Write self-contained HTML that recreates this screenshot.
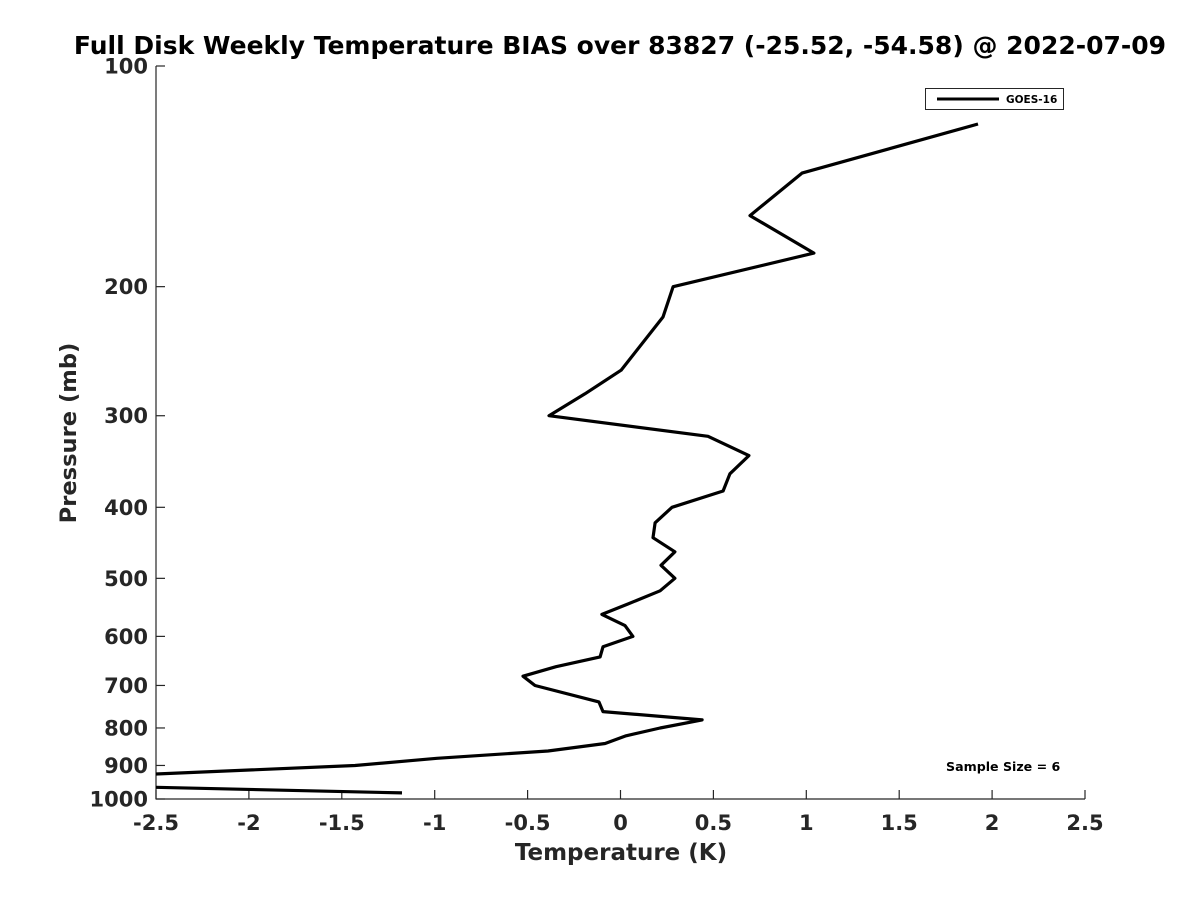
<!DOCTYPE html>
<html><head><meta charset="utf-8"><style>
body{margin:0;background:#fff;}
svg{display:block;font-family:"DejaVu Sans","Liberation Sans",sans-serif;}
</style></head><body>
<svg id="chart" width="1200" height="900" viewBox="0 0 1200 900">
<defs><clipPath id="plotclip"><rect x="156" y="66" width="929" height="733"/></clipPath></defs>
<text x="620" y="54" text-anchor="middle" font-size="25" font-weight="bold" fill="#000">Full Disk Weekly Temperature BIAS over 83827 (-25.52, -54.58) @ 2022-07-09</text>
<g id="axes"></g>
<g clip-path="url(#plotclip)"><polyline id="series" fill="none" stroke="#000" stroke-width="3.2" stroke-linejoin="round"/></g>
<text x="621" y="860" text-anchor="middle" font-size="23" font-weight="bold" fill="#262626">Temperature (K)</text>
<text transform="translate(76,433) rotate(-90)" text-anchor="middle" font-size="22.6" font-weight="bold" fill="#262626">Pressure (mb)</text>
<g>
<rect x="925.5" y="88.5" width="138" height="21" fill="#fff" stroke="#262626" stroke-width="1"/>
<line x1="937" y1="99" x2="999" y2="99" stroke="#000" stroke-width="3"/>
<text x="1006" y="103" font-size="10.5" font-weight="bold" fill="#000">GOES-16</text>
</g>
<text x="946" y="771" font-size="12.6" font-weight="bold" fill="#000">Sample Size = 6</text>
</svg>
<script>
const temps = [1.924,0.977,0.697,1.041,0.283,0.229,0.003,-0.191,-0.385,0.471,0.691,0.589,0.552,0.277,0.186,0.175,0.293,0.218,0.293,0.213,0.040,-0.100,0.024,0.067,-0.094,-0.110,-0.347,-0.525,-0.460,-0.116,-0.094,0.439,0.213,0.030,-0.083,-0.390,-0.988,-1.429,-3.6,-1.176];
const pressures = [120,140,160,180,200,220,260,280,300,320,340,360,380,400,420,440,460,480,500,520,542,560,580,600,620,640,660,680,700,737,760,780,800,820,840,860,880,900,950,981];
const xTicks = [-2.5,-2,-1.5,-1,-0.5,0,0.5,1,1.5,2,2.5];
const xTickLabels = ["-2.5","-2","-1.5","-1","-0.5","0","0.5","1","1.5","2","2.5"];
const yTicks = [100,200,300,400,500,600,700,800,900,1000];
const yTickLabels = ["100","200","300","400","500","600","700","800","900","1000"];
const X0=156,X1=1085,Y0=66,Y1=799,XMIN=-2.5,XMAX=2.5;
function xs(v){return X0+(v-XMIN)/(XMAX-XMIN)*(X1-X0);}
function ys(p){return Y0+(Math.log10(p)-2)*(Y1-Y0);}
const NS="http://www.w3.org/2000/svg";
const ax=document.getElementById('axes');
function mk(tag,attrs){const e=document.createElementNS(NS,tag);for(const k in attrs)e.setAttribute(k,attrs[k]);return e;}
let l=mk('line',{x1:X0,y1:Y0,x2:X0,y2:Y1+0.5,stroke:'#262626','stroke-width':1.2});


ax.appendChild(l);
l=mk('line',{x1:X0,y1:Y1,x2:X1,y2:Y1,stroke:'#262626','stroke-width':1.2});


ax.appendChild(l);
xTicks.forEach((v,i)=>{
  const x=xs(v);
  const t=mk('line',{x1:x,y1:Y1,x2:x,y2:Y1-9,stroke:'#262626','stroke-width':1.2});
  
  
  ax.appendChild(t);
  const tx=mk('text',{x:x,y:830,'text-anchor':'middle','font-size':21,'font-weight':'bold',fill:'#262626'});
  tx.textContent=xTickLabels[i];
  
  
  ax.appendChild(tx);
});
yTicks.forEach((p,i)=>{
  const y=ys(p);
  const t=mk('line',{x1:X0,y1:y,x2:X0+9,y2:y,stroke:'#262626','stroke-width':1.2});
  
  
  ax.appendChild(t);
  const tx=mk('text',{x:148,y:y+7.5,'text-anchor':'end','font-size':21,'font-weight':'bold',fill:'#262626'});
  tx.textContent=yTickLabels[i];
  
  
  ax.appendChild(tx);
});
document.getElementById('series').setAttribute('points',temps.map((t,i)=>xs(t).toFixed(1)+','+ys(pressures[i]).toFixed(1)).join(' '));
</script>
</body></html>
